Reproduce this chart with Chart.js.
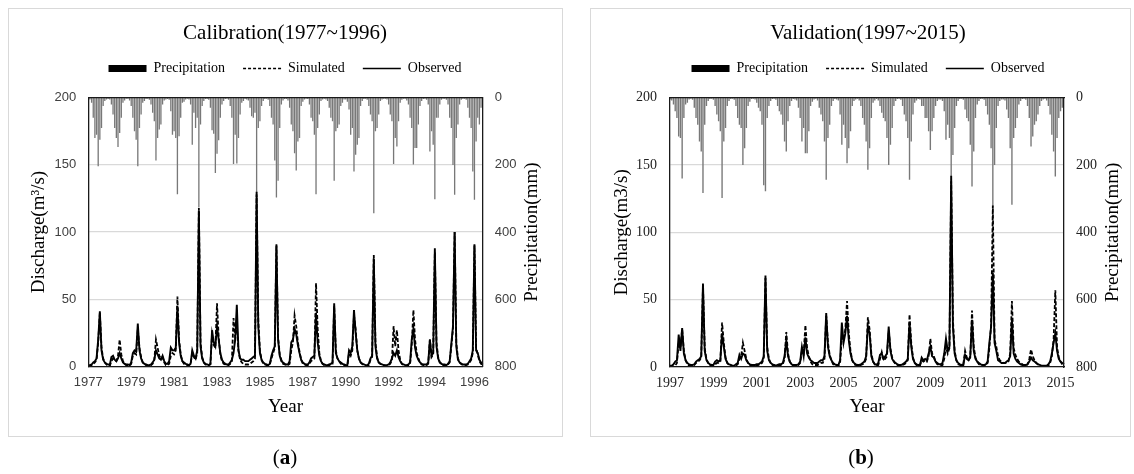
<!DOCTYPE html>
<html>
<head>
<meta charset="utf-8">
<script src="https://cdn.jsdelivr.net/npm/chart.js@4/dist/chart.umd.min.js"></script>
<style>
body { margin: 0; background: #fff; width: 1134px; height: 474px; position: relative; overflow: hidden; font-family: 'Liberation Serif', serif; }
.box { position: absolute; top: 8px; height: 429px; border: 1px solid #d9d9d9; box-sizing: border-box; }
.cv { position: absolute; top: 0; height: 474px; }
.tag { position: absolute; top: 445px; font-size: 21px; transform: translateX(-50%); color: #000; }
</style>
</head>
<body>
<div class="box" style="left:8px;width:555px"></div>
<div class="box" style="left:590px;width:541px"></div>
<div class="cv" style="left:0;width:570px"><canvas id="cal"></canvas></div>
<div class="cv" style="left:602px;width:532px"><canvas id="val"></canvas></div>
<div class="tag" style="left:285px">(<b>a</b>)</div>
<div class="tag" style="left:861px">(<b>b</b>)</div>
<script>
// monthly series, one row per year (Jan..Dec)

// calibration 1977-1996
const calPrecip = [
  3, 5, 15, 60, 120, 110, 204, 125, 90, 25, 10, 5,
  4, 5, 20, 50, 90, 120, 147, 105, 60, 15, 8, 3,
  3, 8, 25, 60, 100, 125, 204, 90, 50, 15, 10, 4,
  3, 6, 20, 45, 70, 187, 120, 95, 80, 20, 8, 5,
  4, 6, 40, 110, 100, 120, 287, 115, 60, 15, 12, 5,
  3, 5, 20, 140, 45, 90, 60, 327, 80, 25, 10, 4,
  4, 6, 30, 97, 107, 224, 167, 127, 60, 20, 10, 4,
  3, 6, 25, 60, 197, 110, 196, 120, 50, 15, 10, 4,
  5, 8, 30, 55, 60, 45, 282, 90, 70, 25, 10, 4,
  3, 6, 25, 60, 80, 187, 297, 247, 90, 20, 8, 4,
  4, 8, 30, 80, 100, 165, 217, 130, 120, 25, 12, 5,
  3, 4, 20, 60, 70, 110, 287, 90, 50, 10, 5, 3,
  5, 10, 30, 60, 70, 247, 100, 90, 80, 25, 15, 5,
  5, 12, 35, 110, 90, 220, 170, 140, 120, 25, 10, 4,
  3, 6, 25, 50, 70, 344, 100, 90, 50, 10, 5, 3,
  3, 5, 20, 50, 70, 197, 120, 145, 70, 15, 6, 3,
  3, 8, 20, 60, 90, 199, 150, 150, 80, 25, 10, 4,
  3, 6, 20, 160, 100, 140, 302, 60, 60, 20, 6, 3,
  3, 6, 20, 60, 90, 200, 289, 120, 80, 20, 6, 3,
  3, 6, 30, 60, 90, 220, 304, 130, 60, 80, 30, 10
];
const calSim = [
  0.5, 0.5, 1, 2, 3, 5, 18, 40, 14, 6, 3, 1.5,
  0.5, 0.5, 4, 6, 5, 4, 8, 20, 9, 4, 2, 1,
  0.5, 0.5, 2, 8, 10, 9, 28, 14, 7, 3, 2, 1,
  0.5, 0.5, 1, 2, 5, 20, 14, 8, 6, 7, 3, 1,
  1, 2, 8, 10, 9, 12, 52, 20, 9, 4, 2, 1,
  1, 1, 2, 10, 7, 5, 10, 118, 18, 7, 3, 1.5,
  1, 1, 1.5, 24, 16, 14, 47, 22, 9, 4, 2, 1.5,
  1, 1, 2, 4, 36, 22, 30, 12, 5, 3, 2, 1.5,
  1.5, 1.5, 2, 3, 4, 6, 128, 35, 12, 5, 2, 1.5,
  1, 1, 1.5, 6, 10, 14, 91, 22, 9, 5, 2, 1.5,
  1, 1, 2, 12, 18, 38, 30, 18, 11, 5, 2, 1.5,
  1, 1, 2, 4, 5, 6, 62, 28, 10, 4, 2, 1,
  0.5, 0.5, 1, 1.5, 2, 45, 12, 6, 4, 2, 1.5, 1,
  0.5, 0.5, 10, 8, 12, 38, 28, 12, 6, 3, 2, 1,
  0.5, 0.5, 1, 5, 7, 83, 18, 7, 3, 2, 1.5, 1,
  0.5, 0.5, 1, 2, 5, 30, 15, 27, 12, 5, 2, 1,
  0.5, 0.5, 1, 2, 16, 42, 20, 10, 6, 3, 1.5, 1,
  1, 1, 2, 20, 7, 9, 85, 18, 7, 3, 2, 1,
  1, 0.5, 1.5, 3, 15, 28, 100, 18, 6, 3, 2, 1,
  1, 1, 1.5, 3, 5, 10, 90, 14, 9, 4, 2, 1
];
const calObs = [
  1, 1, 1.5, 3, 4, 6, 20, 41, 12, 5, 3, 2,
  1.5, 1, 7, 8, 5, 4, 6, 10, 6, 3, 2, 1.5,
  1.5, 1, 3, 10, 12, 11, 32, 12, 6, 3, 2, 1.5,
  1, 1, 1.5, 3, 5, 12, 9, 6, 5, 8, 4, 2,
  2, 4, 14, 12, 12, 14, 45, 18, 8, 4, 3, 2,
  1.5, 1, 2, 12, 8, 6, 12, 116, 15, 6, 3, 2,
  1.5, 1, 2, 27, 18, 15, 30, 20, 10, 5, 3, 2,
  1.5, 1.5, 3, 5, 10, 20, 46, 12, 6, 5, 5, 4,
  4, 4, 5, 6, 7, 8, 130, 30, 10, 5, 3, 2,
  1.5, 1, 2, 8, 12, 15, 90, 20, 8, 4, 3, 2,
  1.5, 1.5, 4, 18, 20, 28, 24, 16, 10, 5, 3, 2,
  1.5, 1.5, 3, 6, 7, 8, 40, 18, 8, 4, 2, 1.5,
  1, 1, 1.5, 2, 3, 47, 10, 6, 4, 3, 2, 1.5,
  1, 1, 12, 10, 15, 42, 25, 12, 6, 3, 2, 1.5,
  1, 1, 2, 6, 8, 80, 15, 6, 3, 2, 1.5, 1,
  1, 1, 1.5, 3, 6, 10, 8, 12, 7, 4, 2, 1.5,
  1, 1, 1.5, 3, 20, 28, 14, 8, 5, 3, 2, 1.5,
  1.5, 1.5, 3, 20, 8, 10, 88, 15, 6, 3, 2, 1.5,
  1.5, 1, 2, 4, 17, 30, 100, 15, 5, 3, 2, 1.5,
  1.5, 1.5, 2, 4, 6, 12, 91, 12, 10, 5, 3, 1.5
];

// validation 1997-2015
const valPrecip = [
  5, 8, 20, 40, 60, 115, 120, 240, 60, 20, 15, 5,
  3, 6, 30, 60, 80, 130, 160, 283, 80, 25, 10, 4,
  3, 6, 25, 50, 70, 100, 298, 130, 90, 25, 10, 4,
  3, 6, 25, 60, 80, 90, 200, 150, 90, 25, 12, 4,
  3, 5, 15, 30, 40, 80, 260, 278, 60, 25, 10, 4,
  3, 6, 25, 40, 50, 80, 130, 160, 70, 25, 10, 4,
  5, 8, 30, 60, 130, 90, 165, 165, 100, 25, 12, 5,
  3, 8, 30, 50, 70, 130, 244, 120, 80, 25, 10, 4,
  5, 8, 50, 140, 80, 120, 195, 150, 100, 25, 10, 5,
  3, 8, 25, 60, 80, 130, 214, 150, 60, 15, 8, 4,
  8, 25, 45, 60, 70, 120, 200, 140, 90, 25, 10, 4,
  3, 6, 25, 50, 70, 120, 244, 130, 50, 15, 8, 4,
  5, 25, 25, 60, 60, 100, 155, 100, 60, 25, 10, 5,
  5, 10, 40, 125, 80, 120, 234, 170, 90, 25, 10, 4,
  3, 6, 35, 60, 70, 140, 264, 160, 60, 20, 10, 4,
  3, 6, 25, 50, 80, 150, 323, 200, 90, 25, 10, 5,
  5, 8, 35, 60, 150, 318, 120, 90, 60, 20, 10, 4,
  3, 6, 25, 60, 145, 115, 80, 70, 50, 25, 10, 5,
  3, 8, 25, 50, 110, 160, 234, 120, 60, 40, 30, 80
];
const valSim = [
  0.5, 0.5, 0.5, 1, 3, 18, 14, 28, 12, 5, 2, 1,
  1, 1, 1.5, 3, 4, 5, 7, 60, 14, 6, 3, 1.5,
  1, 1, 2, 3, 3, 4, 33, 18, 7, 3, 1.5, 1,
  0.5, 0.5, 1, 2, 6, 8, 18, 12, 6, 3, 1.5, 1,
  1, 1, 1, 1.5, 2, 3, 6, 66, 15, 6, 3, 1.5,
  1, 0.5, 1, 1, 1.5, 2, 6, 26, 10, 4, 2, 1,
  1, 1, 1.5, 3, 12, 10, 31, 14, 8, 4, 2, 1.5,
  1.5, 1.5, 2, 3, 3, 6, 38, 18, 9, 5, 2, 1.5,
  1, 1, 3, 22, 20, 28, 49, 25, 12, 5, 2, 1.5,
  1, 1, 1.5, 2, 3, 6, 37, 28, 10, 4, 2, 1,
  1.5, 6, 11, 5, 6, 8, 27, 14, 7, 4, 2, 1.5,
  1, 1, 1.5, 2, 3, 5, 39, 18, 7, 3, 1.5, 1,
  1, 5, 4, 5, 4, 8, 21, 10, 8, 4, 2, 1.5,
  1, 1.5, 6, 15, 10, 14, 138, 35, 12, 5, 2, 1.5,
  1, 2, 12, 7, 5, 7, 42, 15, 7, 4, 2, 1.5,
  1, 1, 1.5, 3, 14, 31, 120, 20, 15, 8, 5, 4,
  3, 3, 3, 4, 10, 49, 14, 9, 6, 4, 3, 2,
  1, 1, 2, 6, 13, 8, 5, 3, 2, 1, 0.5, 0.5,
  0.5, 0.5, 1, 3, 8, 20, 57, 15, 7, 4, 2, 1
];
const valObs = [
  1, 1, 2, 4, 5, 24, 12, 29, 10, 5, 3, 2,
  1.5, 1.5, 2, 4, 5, 6, 8, 62, 12, 5, 3, 2,
  1.5, 1.5, 4, 5, 4, 5, 25, 15, 6, 3, 2, 1.5,
  1, 1, 2, 3, 9, 6, 10, 9, 5, 3, 2, 1.5,
  1.5, 1.5, 2, 2, 3, 4, 8, 68, 12, 5, 3, 2,
  1.5, 1, 1.5, 2, 2, 3, 8, 20, 8, 4, 2, 1.5,
  1.5, 1.5, 2, 4, 15, 8, 22, 10, 7, 5, 4, 3,
  3, 3, 4, 5, 5, 8, 40, 15, 8, 5, 3, 2,
  1.5, 1.5, 5, 33, 18, 25, 38, 20, 10, 5, 3, 2,
  1.5, 1.5, 2, 3, 4, 8, 30, 25, 8, 4, 2, 1.5,
  3, 9, 10, 6, 8, 10, 30, 12, 6, 4, 3, 2,
  1.5, 1.5, 2, 3, 4, 6, 33, 15, 6, 3, 2, 1.5,
  1.5, 7, 5, 6, 5, 10, 15, 8, 7, 4, 3, 2,
  2, 3, 10, 21, 12, 15, 142, 30, 10, 5, 3, 2,
  1.5, 1.5, 9, 6, 5, 8, 35, 12, 6, 4, 3, 2,
  1.5, 1.5, 2, 4, 18, 30, 70, 18, 12, 5, 4, 3,
  3, 3, 4, 5, 8, 35, 10, 6, 4, 3, 2, 1.5,
  1.5, 1.5, 2, 4, 7, 5, 4, 3, 2, 1.5, 1, 1,
  1, 1, 2, 4, 10, 18, 25, 12, 6, 4, 3, 2
];

// categories: one per month
function monthLabels(year, n) {
  const out = [];
  for (let i = 0; i < n; i++) {
    const y = year + Math.floor(i / 12);
    const m = (i % 12) + 1;
    out.push(y + '-' + (m < 10 ? '0' + m : m));
  }
  return out;
}
const calLabels = monthLabels(1977, calObs.length);
const valLabels = monthLabels(1997, valObs.length);
const calTickStep = 26; // excel shows every 26th category
const valTickStep = 25;

const serif = 'Liberation Serif';
const frame = '#1a1a1a';

// right hand axis title reads bottom-to-top like the left one
const sideTitle = {
  id: 'sideTitle',
  afterDraw(chart, args, opts) {
    const { ctx, chartArea } = chart;
    ctx.save();
    ctx.translate(chartArea.right + opts.offset, (chartArea.top + chartArea.bottom) / 2);
    ctx.rotate(-Math.PI / 2);
    ctx.font = opts.font;
    ctx.fillStyle = '#000';
    ctx.textAlign = 'center';
    ctx.textBaseline = 'middle';
    ctx.fillText(opts.text, 0, 0);
    ctx.restore();
  }
};

function makeChart(id, c) {
  const ctx = document.getElementById(id).getContext('2d');
  return new Chart(ctx, {
    data: {
      labels: c.labels,
      datasets: [
        { type: 'bar', label: 'Precipitation', data: c.precip, yAxisID: 'y2', order: 2,
          backgroundColor: '#787878', barPercentage: 0.8, categoryPercentage: 1 },
        { type: 'line', label: 'Simulated', data: c.sim, yAxisID: 'y', order: 1,
          borderColor: '#000', borderWidth: 1.8, borderDash: [4, 2], pointRadius: 0, tension: 0 },
        { type: 'line', label: 'Observed', data: c.obs, yAxisID: 'y', order: 0,
          borderColor: '#000', borderWidth: 1.9, pointRadius: 0, tension: 0 }
      ]
    },
    plugins: [sideTitle],
    options: {
      responsive: true,
      maintainAspectRatio: false,
      animation: false,
      events: [],
      layout: { padding: 0 },
      plugins: {
        title: { display: true, text: c.title, color: '#000',
          font: { family: serif, size: 21, weight: 'normal', lineHeight: 1 },
          padding: { top: 22.5, bottom: 0 } },
        legend: {
          labels: {
            usePointStyle: true, pointStyleWidth: 38, boxHeight: 7, padding: 18,
            font: { family: serif, size: 14 }, color: '#000',
            generateLabels: () => [
              { text: 'Precipitation', fillStyle: '#000', strokeStyle: '#000', lineWidth: 0, pointStyle: 'rect', fontColor: '#000', datasetIndex: 0 },
              { text: 'Simulated', fillStyle: 'rgba(0,0,0,0)', strokeStyle: '#000', lineWidth: 1.5, lineDash: [3, 2], pointStyle: 'line', fontColor: '#000', datasetIndex: 1 },
              { text: 'Observed', fillStyle: 'rgba(0,0,0,0)', strokeStyle: '#000', lineWidth: 1.5, pointStyle: 'line', fontColor: '#000', datasetIndex: 2 }
            ]
          }
        },
        tooltip: { enabled: false },
        sideTitle: { text: 'Precipitation(mm)', font: '19px ' + serif, offset: c.rightTitle }
      },
      scales: {
        x: {
          type: 'category', offset: false,
          grid: { display: false, drawTicks: false },
          border: { display: true, color: frame, width: 1.3, z: 1 },
          ticks: { autoSkip: false, maxRotation: 0, minRotation: 0, padding: 8, color: c.tickColor,
            font: c.tickFont,
            callback: (v, i) => (i % c.step === 0 ? c.labels[i].slice(0, 4) : '') },
          title: { display: true, text: 'Year', color: '#000', font: { family: serif, size: 19 },
            padding: { top: 0, bottom: 55.6 } },
          afterFit: s => { s.height = c.bottom; }
        },
        x2: {
          type: 'category', position: 'top', offset: false,
          grid: { display: false, drawTicks: false },
          border: { display: true, color: frame, width: 1.3, z: 1 },
          ticks: { display: false },
          afterFit: s => { s.height = 12.2; }
        },
        y: {
          position: 'left', min: 0, max: 200,
          grid: { color: '#d9d9d9', lineWidth: 1.3, drawTicks: false },
          border: { display: true, color: frame, width: 1.3, z: 1 },
          ticks: { stepSize: 50, padding: c.leftPad, color: c.tickColor, font: c.tickFont },
          title: { display: true, text: c.yTitle, color: '#000', font: { family: serif, size: 19 },
            padding: { top: c.leftTitle, bottom: 0 } },
          afterFit: s => { s.width = c.left; }
        },
        y2: {
          position: 'right', min: 0, max: 800, reverse: true,
          grid: { display: false, drawTicks: false },
          border: { display: true, color: frame, width: 1.3, z: 1 },
          ticks: { stepSize: 200, padding: 12, color: c.tickColor, font: c.tickFont },
          afterFit: s => { s.width = c.right; }
        }
      }
    }
  });
}

makeChart('cal', {
  labels: calLabels, precip: calPrecip, sim: calSim, obs: calObs, step: calTickStep,
  title: 'Calibration(1977~1996)', yTitle: 'Discharge(m\u00b3/s)',
  tickFont: { family: 'Liberation Sans', size: 13 }, tickColor: '#404040',
  left: 88.3, right: 87.3, bottom: 107.5, leftPad: 12, leftTitle: 27.6, rightTitle: 49.3
});

makeChart('val', {
  labels: valLabels, precip: valPrecip, sim: valSim, obs: valObs, step: valTickStep,
  title: 'Validation(1997~2015)', yTitle: 'Discharge(m3/s)',
  tickFont: { family: serif, size: 14 }, tickColor: '#222',
  left: 68, right: 70, bottom: 107, leftPad: 13, leftTitle: 8.6, rightTitle: 48.7
});
</script>
</body>
</html>
